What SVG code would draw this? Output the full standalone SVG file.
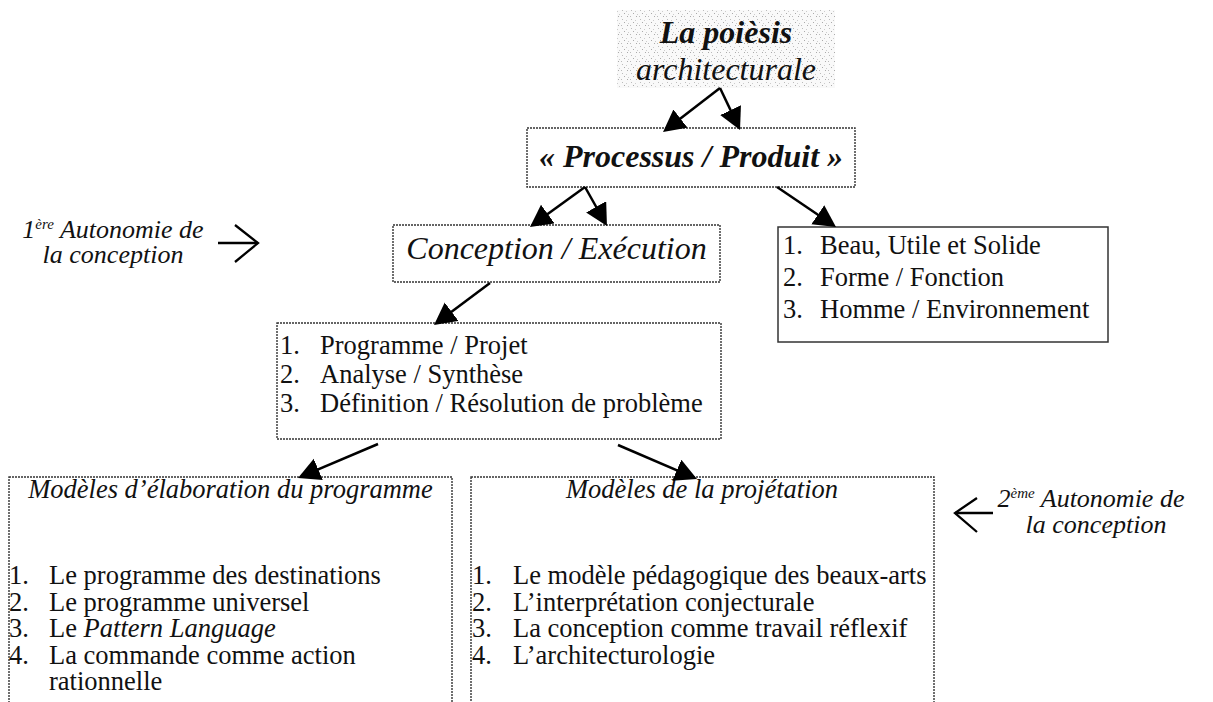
<svg xmlns="http://www.w3.org/2000/svg" width="1213" height="702" viewBox="0 0 1213 702">
<style>
text { font-family: "Liberation Serif", "Times New Roman", serif; fill: #111; }
.box { fill: #fff; stroke: #333; stroke-width: 1.4; stroke-dasharray: 2 1; }
.solid { fill: #fff; stroke: #333; stroke-width: 1.5; }
.title { font-size: 32px; font-style: italic; }
.bold { font-weight: bold; }
.item { font-size: 26.5px; }
.it { font-style: italic; }
.lbl { font-size: 26px; font-style: italic; }
.sup { font-size: 15px; }
.conn line { stroke: #000; stroke-width: 2.5; marker-end: url(#ah); }
.chev { fill: none; stroke: #000; stroke-width: 2.3; }
</style>
<defs>
<marker id="ah" markerUnits="userSpaceOnUse" markerWidth="24" markerHeight="24" refX="18" refY="11.5" orient="auto">
<path d="M0,0 L22,11.5 L0,23 Z" fill="#000"/>
</marker>
<pattern id="stipple" patternUnits="userSpaceOnUse" width="9" height="9">
<rect width="9" height="9" fill="#f9f9f9"/>
<rect x="1" y="1" width="1" height="1" fill="#bbb"/>
<rect x="5" y="2" width="1" height="1" fill="#ccc"/>
<rect x="3" y="4" width="1" height="1" fill="#aaa"/>
<rect x="7" y="5" width="1" height="1" fill="#ccc"/>
<rect x="0" y="7" width="1" height="1" fill="#bbb"/>
<rect x="6" y="7" width="1" height="1" fill="#aaa"/>
</pattern>
</defs>

<g id="node-poiesis">
<rect x="617" y="10" width="218" height="78" fill="url(#stipple)"/>
<text class="title bold" x="726" y="43" text-anchor="middle">La poièsis</text>
<text class="title" x="726" y="80" text-anchor="middle">architecturale</text>
</g>

<g id="node-processus">
<rect class="box" x="527" y="128" width="328" height="59"/>
<text class="title bold" x="691" y="167" text-anchor="middle">« Processus / Produit »</text>
</g>

<g id="node-conception">
<rect class="box" x="393" y="225" width="327" height="57"/>
<text class="title" x="556.5" y="259" text-anchor="middle">Conception / Exécution</text>
</g>

<g id="node-beau">
<rect class="solid" x="778" y="227" width="330" height="115"/>
<text class="item" x="783" y="254">1.</text>
<text class="item" x="820" y="254">Beau, Utile et Solide</text>
<text class="item" x="783" y="286">2.</text>
<text class="item" x="820" y="286">Forme / Fonction</text>
<text class="item" x="783" y="318">3.</text>
<text class="item" x="820" y="318">Homme / Environnement</text>
</g>

<g id="node-programme">
<rect class="box" x="277" y="323" width="444" height="116"/>
<text class="item" x="280" y="354">1.</text>
<text class="item" x="320" y="354">Programme / Projet</text>
<text class="item" x="280" y="383">2.</text>
<text class="item" x="320" y="383">Analyse / Synthèse</text>
<text class="item" x="280" y="412">3.</text>
<text class="item" x="320" y="412">Définition / Résolution de problème</text>
</g>

<g id="node-elaboration">
<rect class="box" x="9" y="477" width="443" height="240"/>
<text class="item it" x="230.5" y="498" text-anchor="middle">Modèles d’élaboration du programme</text>
<text class="item" x="9" y="584">1.</text>
<text class="item" x="49" y="584">Le programme des destinations</text>
<text class="item" x="9" y="610.5">2.</text>
<text class="item" x="49" y="610.5">Le programme universel</text>
<text class="item" x="9" y="637">3.</text>
<text class="item" x="49" y="637">Le <tspan class="it">Pattern Language</tspan></text>
<text class="item" x="9" y="663.5">4.</text>
<text class="item" x="49" y="663.5">La commande comme action</text>
<text class="item" x="49" y="690">rationnelle</text>
</g>

<g id="node-projetation">
<rect class="box" x="471" y="477" width="463" height="240"/>
<text class="item it" x="702" y="498" text-anchor="middle">Modèles de la projétation</text>
<text class="item" x="472" y="584">1.</text>
<text class="item" x="513" y="584">Le modèle pédagogique des beaux-arts</text>
<text class="item" x="472" y="610.5">2.</text>
<text class="item" x="513" y="610.5">L’interprétation conjecturale</text>
<text class="item" x="472" y="637">3.</text>
<text class="item" x="513" y="637">La conception comme travail réflexif</text>
<text class="item" x="472" y="663.5">4.</text>
<text class="item" x="513" y="663.5">L’architecturologie</text>
</g>

<g id="label-autonomie-1">
<text class="lbl" x="113" y="238" text-anchor="middle">1<tspan class="sup" dy="-9">ère</tspan><tspan dy="9"> Autonomie de</tspan></text>
<text class="lbl" x="113" y="263" text-anchor="middle">la conception</text>
<line class="chev" x1="218" y1="243" x2="258" y2="243"/>
<polyline class="chev" points="235,225 258,243 235,262"/>
</g>

<g id="label-autonomie-2">
<text class="lbl" x="1091" y="507" text-anchor="middle">2<tspan class="sup" dy="-9">ème</tspan><tspan dy="9"> Autonomie de</tspan></text>
<text class="lbl" x="1096" y="533" text-anchor="middle">la conception</text>
<line class="chev" x1="955" y1="513" x2="993" y2="513"/>
<polyline class="chev" points="977,498 955,513 977,532"/>
</g>

<g id="connectors" class="conn">
<line x1="720" y1="88" x2="666.2" y2="129.6"/>
<line x1="720" y1="88" x2="738.3" y2="126.4"/>
<line x1="585" y1="187" x2="533.2" y2="224.6"/>
<line x1="585" y1="187" x2="605" y2="222.5"/>
<line x1="777" y1="187" x2="832.7" y2="224.8"/>
<line x1="490" y1="283" x2="437.2" y2="322.6"/>
<line x1="378" y1="444" x2="301.7" y2="476.4"/>
<line x1="618" y1="445" x2="693.3" y2="477.4"/>
</g>
</svg>
